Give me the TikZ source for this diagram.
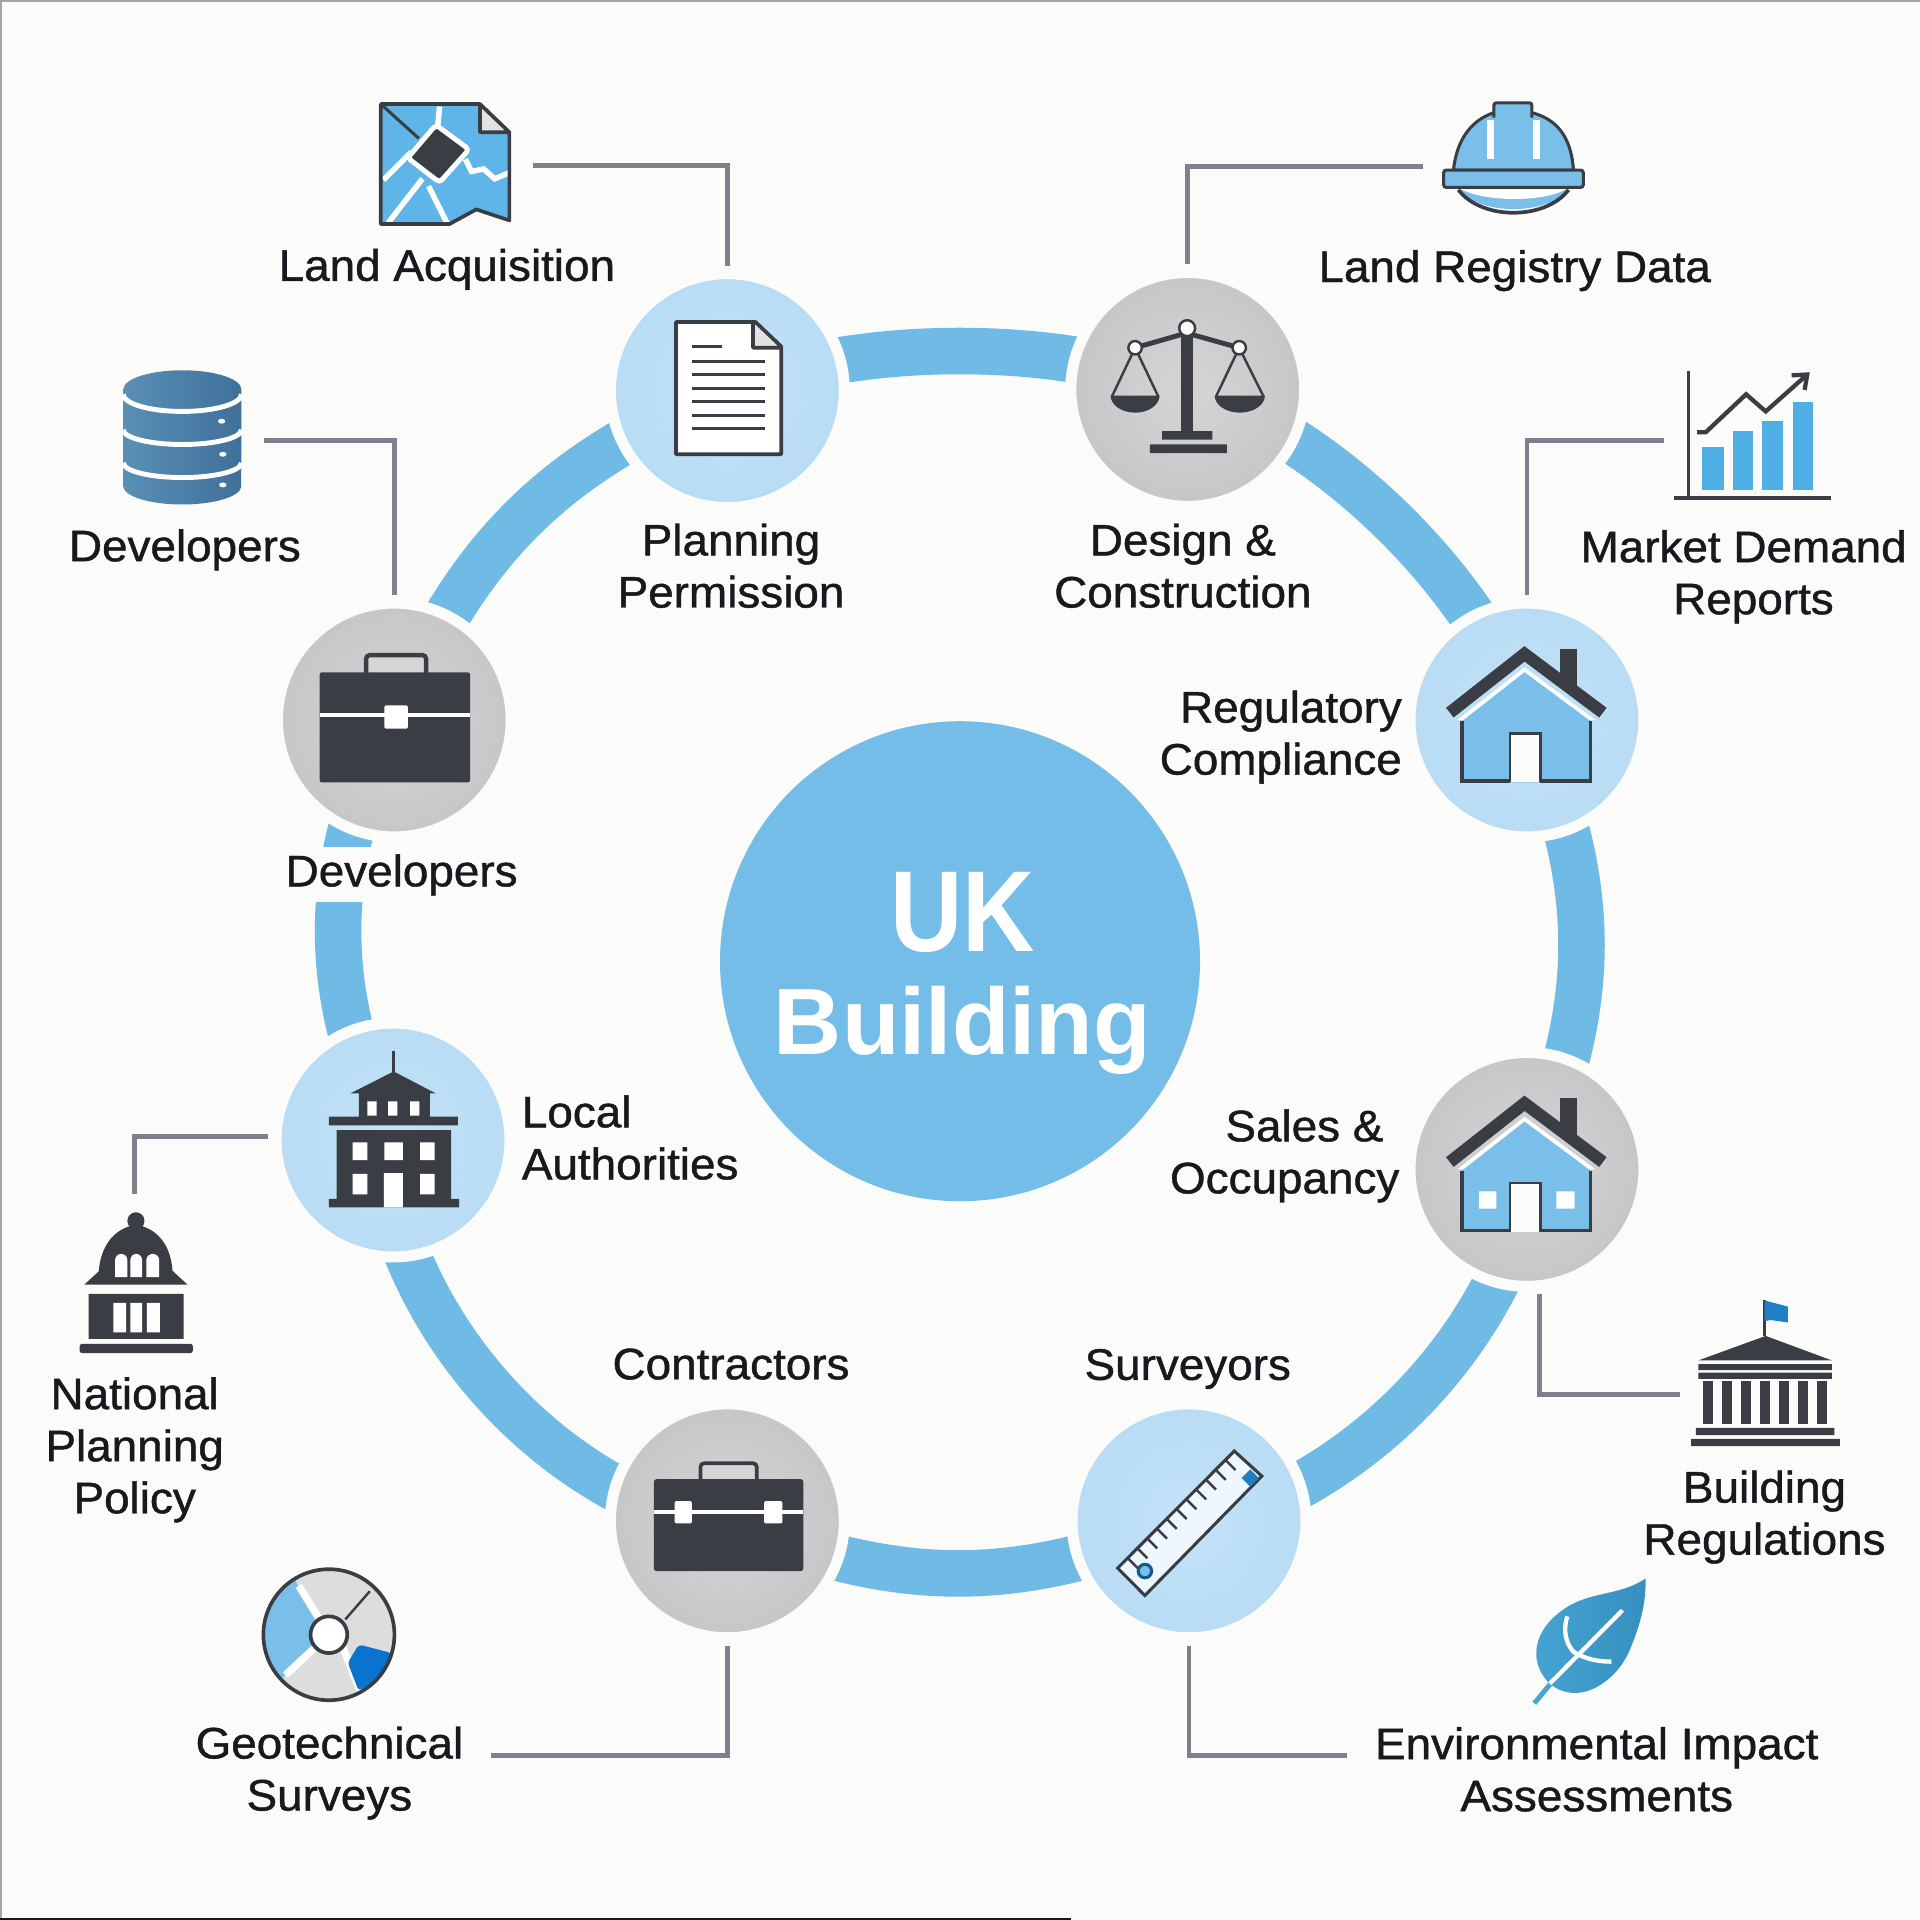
\documentclass[tikz,border=0pt]{standalone}
\usepackage{fontspec}
\usepackage{graphicx}
\setmainfont{Liberation Sans}[FakeBold=1,FakeStretch=1.04]
\newfontfamily\hubFont{Liberation Sans}
\usetikzlibrary{backgrounds,positioning,arrows.meta}
\definecolor{bgPaper}{HTML}{FBFBFA}
\definecolor{ringBlue}{HTML}{70BBE6}
\definecolor{hubBlue}{HTML}{74BDE8}
\definecolor{iconDark}{HTML}{3A3E44}
\definecolor{leaderGrey}{HTML}{7E818D}
\definecolor{textDark}{HTML}{16191D}
\definecolor{iconBlue}{HTML}{79BFE9}
\definecolor{nodeBlueIn}{HTML}{C3E3F8}
\definecolor{nodeBlueOut}{HTML}{B8DCF4}
\definecolor{nodeGreyIn}{HTML}{D6D5D6}
\definecolor{nodeGreyOut}{HTML}{C6C6C8}
\definecolor{barBlue}{HTML}{4FAEE3}
\definecolor{mapBlue}{HTML}{5FB4E8}
\definecolor{dbBlueA}{HTML}{5A8FB6}
\definecolor{dbBlueB}{HTML}{3F7099}
\definecolor{leafBlueA}{HTML}{45A5D3}
\definecolor{leafBlueB}{HTML}{378FBE}
\definecolor{flagBlue}{HTML}{1F80C8}
\definecolor{discBlue}{HTML}{0A72CF}
\tikzset{
  ringNode/.style={circle,minimum size=191pt,inner sep=0pt,outer sep=6.5pt,draw=bgPaper,line width=9pt},
  blueNode/.style={ringNode,shade,inner color=nodeBlueIn,outer color=nodeBlueOut},
  greyNode/.style={ringNode,shade,inner color=nodeGreyIn,outer color=nodeGreyOut},
  lbl/.style={align=center,inner sep=0pt,text=textDark,font=\fontsize{36}{42.5}\selectfont},
  ringLine/.style={line width=38pt,draw=ringBlue},
  leader/.style={line width=4pt,draw=leaderGrey},
  iconLine/.style={draw=iconDark,line width=3pt},
  iconFill/.style={fill=iconDark}
}
\newcommand{\houseIcon}[1]{%
  \begin{scope}[yshift=-#1pt]
    \fill[white] (1190,588) -- (1245,545) -- (1303,588) -- cycle;
    \fill[iconBlue] (1194,589) -- (1245,549) -- (1299,589) -- (1299,639) -- (1194,639) -- cycle;
    \draw[iconDark,line width=3pt] (1194,589) -- (1194,638) -- (1233,638) (1258,638) -- (1299,638) -- (1299,589);
    \fill[bgPaper] (1233,599) rectangle (1258,639);
    \draw[iconDark,line width=2pt] (1233,639) -- (1233,599) -- (1258,599) -- (1258,639);
    \fill[iconFill] (1274,530) rectangle (1288,560);
    \draw[iconDark,line width=10pt] (1184,582) -- (1245,534) -- (1309,582);
  \end{scope}}
\begin{document}
\begin{tikzpicture}[x=1pt,y=-1pt]
  \useasboundingbox (0,0) rectangle (1568,1568);
  \node[blueNode] (planning) at (594,319) {};
  \node[greyNode] (design) at (970,318) {};
  \node[blueNode] (regulatory) at (1247,588) {};
  \node[greyNode] (sales) at (1247,955) {};
  \node[blueNode] (surveyors) at (971,1242) {};
  \node[greyNode] (contractors) at (594,1242) {};
  \node[blueNode] (local) at (321,931) {};
  \node[greyNode] (developers) at (322,588) {};
  \node[circle,fill=hubBlue,minimum size=392pt,inner sep=0pt] (hub) at (784,785) {};
  \node[inner sep=0pt,text=white,font=\hubFont\bfseries,anchor=base] (ukLbl) at (786,777) {\fontsize{94}{94}\selectfont\scalebox{.87}[1]{UK}};
  \node[inner sep=0pt,text=white,font=\hubFont\bfseries,anchor=base] (buildingLbl) at (786,861) {\fontsize{77}{84}\selectfont Building};

  \begin{scope}[on background layer]
    \fill[bgPaper] (0,0) rectangle (1568,1568);
    \draw[gray!70,line width=1.5pt] (.7,1568) -- (.7,.7) -- (1568,.7);
    \draw[textDark,line width=2pt] (0,1567) -- (875,1567);
    \path[ringLine]
    (planning.center) edge [bend left=22,looseness=.77] (design.center)
    (design.center) edge [bend left=26,looseness=.8] (regulatory.center)
    (regulatory.center) edge [bend left=24,looseness=1.02] (sales.center)
    ([xshift=8pt]sales.center) edge [bend left=32,looseness=.9] ([yshift=-7pt]surveyors.center)
    (surveyors.center) edge [bend left=22,looseness=1.04] (contractors.center)
    ([yshift=-8pt]contractors.center) edge [bend left=36,looseness=.9] ([xshift=-12pt]local.center)
    (local.center) edge [bend left=28,looseness=.96] (developers.center)
    (developers.center) edge [bend left=22,looseness=1.03] (planning.center);
  \end{scope}

  % labels on the ring
  \node[lbl,xshift=3pt] (planningLbl) [below of=planning,node distance=143pt] {Planning\\Permission};
  \node[lbl] (designLbl) at (966,462) {Design \&\\Construction};
  \node[lbl,align=right,anchor=east] (regulatoryLbl) at (1145,602) {Regulatory\\Compliance};
  \node[lbl,align=right,anchor=east] (salesLbl) at (1143,944) {Sales \&\hspace*{13pt}\\Occupancy};
  \node[lbl,fill=bgPaper,minimum height=45pt,minimum width=190pt] (developersLbl) at (328,714.5) {Developers};
  \node[lbl,align=left,anchor=west] (localLbl) at (426,929) {Local\\Authorities};
  \node[lbl] (contractorsLbl) at (597,1114) {Contractors};
  \node[lbl] (surveyorsLbl) at (970,1118) {Surveyors};
  % outer labels
  \node[lbl] (landLbl) at (365,220) {Land Acquisition};
  \node[lbl] (registryLbl) at (1237,221) {Land Registry Data};
  \node[lbl] (dbLbl) at (151,449) {Developers};
  \node[lbl] (marketLbl) at (1424,471) {Market Demand\\\hspace*{16pt}Reports};
  \node[lbl] (policyLbl) at (110,1184) {National\\Planning\\Policy};
  \node[lbl] (geoLbl) at (269,1448) {Geotechnical\\Surveys};
  \node[lbl] (regsLbl) at (1441,1239) {Building\\Regulations};
  \node[lbl] (envLbl) at (1304,1445) {Environmental Impact\\Assessments};

  % leaders
  \coordinate (landEnd) at (435,135);
  \coordinate (registryEnd) at (1162,136);
  \coordinate (dbEnd) at (216,360);
  \coordinate (marketEnd) at (1359,360);
  \coordinate (policyEnd) at (110,975);
  \coordinate (regsEnd) at (1372,1139);
  \coordinate (envEnd) at (1100,1434);
  \coordinate (geoEnd) at (401,1434);
  \draw[leader] (landEnd) -| (planning.north);
  \draw[leader] (registryEnd) -| (design.north);
  \draw[leader] (dbEnd) -| (developers.north);
  \draw[leader] (marketEnd) -| (regulatory.north);
  \draw[leader] (policyEnd) |- ([yshift=3pt]local.west);
  \draw[leader] (regsEnd) -| ([xshift=10pt]sales.south);
  \draw[leader] (envEnd) -| (surveyors.south);
  \draw[leader] (geoEnd) -| (contractors.south);

  % map
  \fill[mapBlue] (311,85) -- (392,85) -- (416,108) -- (416,180) -- (389,171) -- (367,183) -- (311,183) -- cycle;
  \draw[white,line width=4.5pt] (359,87) -- (357,108) (380,130) -- (385,140) -- (395,138) -- (404,146) -- (416,141)
    (336,124) -- (313,147) (345,146) -- (317,182) (350,152) -- (365,182);
  \fill[iconDark,draw=white,line width=4pt,rounded corners=3pt] (356,102) -- (383,122) -- (359,149) -- (333,129) -- cycle;
  \draw[iconDark,line width=2.5pt] (311,85) -- (342,113);
  \fill[bgPaper!90!black] (392,85) -- (416,108) -- (392,108) -- cycle;
  \draw[iconDark,line width=3pt,line join=round] (392,85) -- (392,108) -- (416,108) (311,85) -- (392,85) -- (416,108) -- (416,180) -- (389,171) -- (367,183) -- (311,183) -- cycle;

  % document
  \fill[white] (552,263) -- (617,263) -- (638,283) -- (638,371) -- (552,371) -- cycle;
  \fill[bgPaper!90!black] (615,263) -- (638,284) -- (615,284) -- cycle;
  \draw[iconLine,line join=round] (615,263) -- (615,284) -- (638,284) (552,263) -- (617,263) -- (638,283) -- (638,371) -- (552,371) -- cycle;
  \foreach \y in {295,306,317,328,339,350}
    \draw[iconDark,line width=2.5pt] (565,\y) -- (625,\y);
  \draw[iconDark,line width=2.5pt] (565,283) -- (590,283);

  % scales
  \fill[iconFill] (964.5,270) rectangle (974.5,353);
  \draw[iconDark,line width=4pt] (927,284) -- (969,272) -- (1012,284);
  \draw[iconDark,line width=2pt] (908,324) -- (927,284) -- (946,324) (993,324) -- (1012,284) -- (1032,324);
  \fill[iconFill] (907,323) -- (947,323) arc[start angle=0,end angle=180,x radius=20,y radius=14] -- cycle;
  \fill[iconFill] (992,323) -- (1033,323) arc[start angle=0,end angle=180,x radius=20.5,y radius=14] -- cycle;
  \filldraw[fill=bgPaper,draw=iconDark,line width=2pt] (969.5,268) circle (6.5) (927,284) circle (5.5) (1012,284) circle (5.5);
  \fill[iconFill] (949,352) rectangle (990,359) (939,363) rectangle (1002,370);

  % hard hat
  \fill[iconBlue] (1191,155) .. controls (1210,176) and (1262,176) .. (1281,155) -- cycle;
  \fill[white] (1194,155) .. controls (1215,165) and (1260,165) .. (1278,155) -- cycle;
  \draw[iconLine] (1191,155) .. controls (1210,180) and (1262,180) .. (1281,155);
  \filldraw[fill=iconBlue,draw=iconDark,line width=2.5pt] (1187,139) .. controls (1190,110) and (1205,97) .. (1220,92) -- (1251,92) .. controls (1270,97) and (1283,110) .. (1285,139) -- cycle;
  \draw[white,line width=6pt] (1217,98) -- (1217,130) (1255,98) -- (1255,130);
  \fill[iconBlue,rounded corners=2pt] (1220,130) -- (1220,84) -- (1251,84) -- (1251,130) -- cycle;
  \draw[iconDark,line width=2.5pt,rounded corners=2pt] (1220,96) -- (1220,84) -- (1251,84) -- (1251,96);
  \filldraw[fill=iconBlue,draw=iconDark,line width=2.5pt,rounded corners=2pt] (1179,139) rectangle (1293,153);

  % chart
  \foreach \a/\b/\c in {1390/1408/365,1415/1432/352,1439/1456/344,1464/1481/328}
    \fill[barBlue] (\a,\c) rectangle (\b,400);
  \draw[iconDark,line width=3pt] (1379,303) -- (1379,405) (1367,406.5) -- (1495,406.5);
  \draw[iconDark,line width=3.5pt,-{Straight Barb[length=10pt,width=16pt]}] (1386,353) -- (1393,353) -- (1426,322) -- (1442,336) -- (1478,304);

  % houses
  \houseIcon{0}
  \houseIcon{367}
  \fill[white] (1208,973) rectangle (1222,987) (1271,973) rectangle (1286,987);

  % database
  \shade[left color=dbBlueA,right color=dbBlueB] (100.7,318) arc[start angle=180,end angle=360,x radius=48.2,y radius=15.6] -- (197,397) arc[start angle=0,end angle=180,x radius=48.2,y radius=15] -- cycle;
  \draw[white,line width=4pt] (100.7,322) arc[start angle=180,end angle=0,x radius=48.2,y radius=14]
    (100.7,351) arc[start angle=180,end angle=0,x radius=48.2,y radius=12]
    (100.7,378) arc[start angle=180,end angle=0,x radius=48.2,y radius=12];
  \fill[white] (181,344) ellipse (3 and 2) (182,371) ellipse (3 and 2) (182,396) ellipse (3 and 2);

  % briefcases
  \draw[iconDark,line width=3.5pt,rounded corners=3pt,fill=nodeGreyIn] (299,552) -- (299,535) -- (348,535) -- (348,552);
  \fill[iconFill,rounded corners=2pt] (261,549) rectangle (384,639);
  \draw[white,line width=3pt] (261,584) -- (384,584);
  \fill[white,rounded corners=1pt] (314,576) rectangle (333,595);
  \draw[iconDark,line width=3pt,rounded corners=3pt,fill=nodeGreyIn] (572,1210) -- (572,1195) -- (618,1195) -- (618,1210);
  \fill[iconFill,rounded corners=2pt] (534,1208) rectangle (656,1283);
  \draw[white,line width=3pt] (534,1235) -- (656,1235);
  \fill[white,rounded corners=1pt] (551,1226) rectangle (565,1244) (624,1226) rectangle (639,1244);

  % ruler
  \filldraw[fill=nodeBlueIn!30!white,draw=iconDark,line width=2.5pt] (1008,1185) -- (1030.5,1205.5) -- (935,1303) -- (912.7,1280.6) -- cycle;
  \foreach \t in {1,...,11}
    \draw[iconDark,line width=2pt] (913+\t*8,1280.5-\t*8) -- ++(8,8);
  \fill[flagBlue] (1021,1200) -- (1028,1207) -- (1021,1214) -- (1014,1207) -- cycle;
  \filldraw[fill=iconBlue,draw=flagBlue!70!black,line width=2.5pt] (935,1283) circle (5.5);

  % town hall
  \draw[iconDark,line width=2pt] (321.5,858) -- (321.5,878);
  \fill[iconFill] (286,893) -- (321.5,875) -- (356,893) -- cycle (293,893) rectangle (351,912) (268.6,912) rectangle (374,919) (275,923) rectangle (368.5,979) (268.6,979) rectangle (375,986);
  \fill[white] (300,899.5) rectangle (307.5,911) (317,899.5) rectangle (324.5,911) (335,899.5) rectangle (342.5,911)
    (288,933) rectangle (300,947.5) (314,933) rectangle (329,947.5) (343,933) rectangle (355,947.5)
    (288,958.7) rectangle (300,975.4) (343,958.7) rectangle (355,975.4) (313.4,958) rectangle (329,986);

  % national dome
  \fill[iconFill] (111,997) circle (7);
  \fill[iconFill] (80.5,1040) .. controls (82,1015) and (95,1003) .. (111,1000) .. controls (127,1003) and (140,1015) .. (141,1040) -- cycle;
  \fill[iconFill] (69,1049) -- (82,1037) -- (140,1037) -- (153,1049) -- cycle (72.4,1056.6) rectangle (150,1093.3);
  \fill[iconFill,rounded corners=2pt] (65,1097.5) rectangle (157.5,1105);
  \foreach \a/\b in {94/104,106.5/116,119.5/130}
    \fill[white] (\a,1043) -- (\a,1029) arc[start angle=180,end angle=360,x radius={(\b-\a)/2},y radius=5] -- (\b,1043) -- cycle;
  \fill[white] (92.6,1064) rectangle (103,1088) (106.5,1064) rectangle (116,1088) (120,1064) rectangle (130.6,1088);

  % survey disc
  \fill[nodeGreyIn!80!white] (268.6,1335) circle (53);
  \fill[iconBlue] (268.6,1335) -- ++(137:52) arc[start angle=137,end angle=238,radius=52] -- cycle;
  \draw[white,line width=6pt] (268.6,1335) -- (244,1295) (268.6,1335) -- (233,1368) (280,1345) -- (295,1383);
  \fill[discBlue,rounded corners=3pt] (293,1343) -- (320,1350) -- (311,1370) -- (293,1381) -- (284,1358) -- cycle;
  \draw[iconDark,line width=2pt] (282,1322.5) -- (302,1299.5);
  \draw[iconDark,line width=3pt] (268.6,1335) circle (53.5);
  \filldraw[fill=white,draw=iconDark,line width=3pt] (268.6,1335) circle (15);

  % leaf
  \shade[left color=leafBlueA,right color=leafBlueB] (1344,1289) .. controls (1320,1305) and (1296,1298) .. (1272,1318) .. controls (1250,1336) and (1250,1360) .. (1265.6,1375) .. controls (1290,1395) and (1322,1372) .. (1332,1345) .. controls (1340,1325) and (1344,1310) .. (1344,1289) -- cycle;
  \draw[leafBlueA,line width=4pt] (1268,1373) -- (1253,1391);
  \draw[white,line width=3.5pt] (1325,1315) -- (1265.6,1375) (1280,1320) .. controls (1276,1332) and (1279,1342) .. (1285,1349) .. controls (1295,1355) and (1305,1357) .. (1316,1357);

  % government
  \draw[iconDark,line width=2pt] (1441,1062) -- (1441,1091);
  \fill[flagBlue] (1441,1062) -- (1460,1067) -- (1460,1080) -- (1446,1078) -- (1441,1079) -- cycle;
  \fill[iconFill] (1387,1111) -- (1442,1091) -- (1496,1111) -- cycle (1387,1114) rectangle (1496,1119) (1387,1121) rectangle (1496,1126)
    (1385,1166) rectangle (1498,1172) (1381,1175) rectangle (1502.5,1181);
  \foreach \x in {1391,1406.5,1422,1437.5,1453,1468.5,1484}
    \fill[iconFill] (\x,1128) rectangle (\x+8,1163);
\end{tikzpicture}
\end{document}
